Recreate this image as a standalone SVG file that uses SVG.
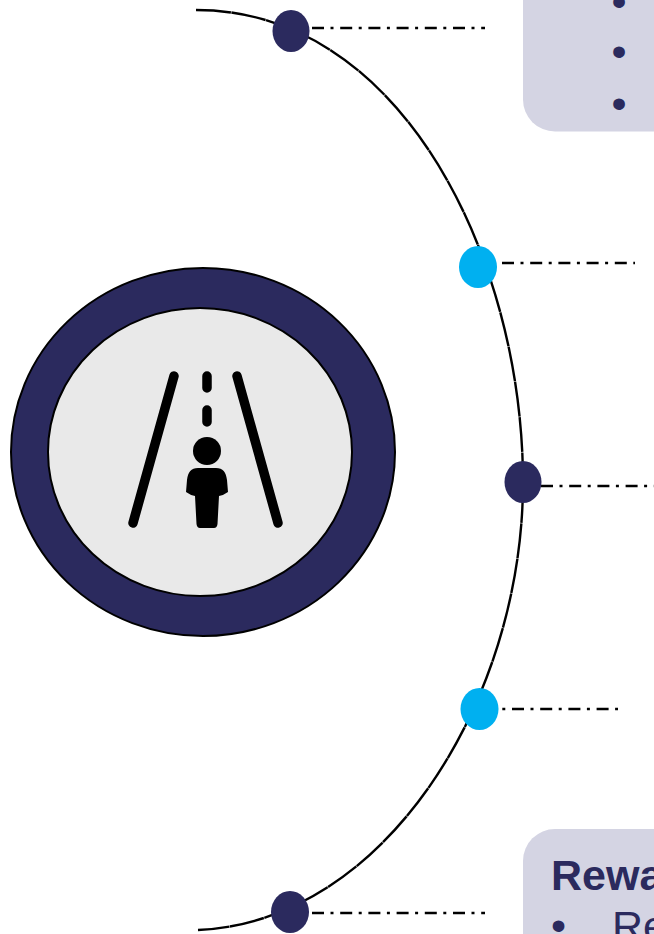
<svg xmlns="http://www.w3.org/2000/svg" width="654" height="934" viewBox="0 0 654 934">
<style>
.dd{fill:none;stroke:#000;stroke-width:2.600;stroke-dasharray:12 6.500 3 6.700}
.navy{fill:#2B2A5E}
.cyan{fill:#00B0F0}
.box{fill:#D4D4E3}
.t{font-family:"Liberation Sans",Arial,sans-serif;fill:#2B2A5E;font-size:43px}
.road{fill:none;stroke:#000;stroke-width:9.500;stroke-linecap:round}
</style>
<rect width="654" height="934" fill="#fff"/>
<g id="connectors">
<path id="arc" fill="none" stroke="#000" stroke-width="2.400" stroke-dasharray="35 0.500" d="M196 10C403 10 523 261 523 482C523 700 385 922 198 930"/>
<path class="dd" d="M312 28H485"/>
<path class="dd" d="M502 263H635"/>
<path class="dd" d="M541 486H660"/>
<path class="dd" d="M483.800 709H618"/>
<path class="dd" d="M312 913H485"/>
</g>
<g id="hub">
<ellipse class="navy" cx="203" cy="452" rx="192" ry="184" stroke="#000" stroke-width="2"/>
<ellipse cx="200" cy="452" rx="152" ry="144" fill="#E9E9E9" stroke="#000" stroke-width="2"/>
<path class="road" d="M174 376L133 523M237 376L278 523M207 376V388M207 410V422"/>
<circle cx="207" cy="451" r="14"/>
<path d="M198 468H216C223 468 226 472 227 480L228 492Q224 495 219 496L217.500 524Q217 528 214 528H200Q197 528 196.500 524L195 496Q190 495 186 492L187 480C188 472 191 468 198 468Z"/>
</g>
<g id="node1"><ellipse class="navy" cx="291" cy="31" rx="18.500" ry="21"/></g>
<g id="node2"><ellipse class="cyan" cx="478" cy="267" rx="19" ry="21"/></g>
<g id="node3"><ellipse class="navy" cx="523" cy="482" rx="18.500" ry="21"/></g>
<g id="node4"><ellipse class="cyan" cx="479.500" cy="709" rx="19" ry="21"/></g>
<g id="node5"><ellipse class="navy" cx="290" cy="912" rx="19" ry="21"/></g>
<g id="box-top">
<rect class="box" x="523" y="-60" width="180" height="191.500" rx="32"/>
<text class="t" x="611.500" y="16">•</text>
<text class="t" x="611.500" y="66">•</text>
<text class="t" x="611.500" y="118">•</text>
</g>
<g id="box-bottom">
<rect class="box" x="523" y="829" width="180" height="160" rx="32"/>
<text class="t" x="551" y="890" font-weight="700">Rewa</text>
<text class="t" x="551" y="940">•</text>
<text class="t" x="612" y="941">Re</text>
</g>
</svg>
